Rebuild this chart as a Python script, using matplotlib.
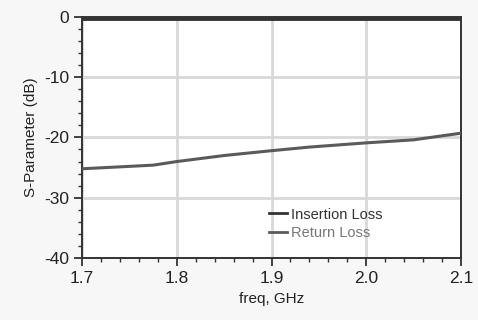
import matplotlib
matplotlib.use('Agg')
import matplotlib.pyplot as plt
from matplotlib.ticker import MultipleLocator

plt.rcParams['font.family'] = ['Liberation Sans', 'DejaVu Sans']
plt.rcParams['axes.unicode_minus'] = False

# data
freq_il = [1.7, 1.8, 1.9, 2.0, 2.1]
insertion_loss = [-0.2, -0.2, -0.2, -0.2, -0.2]

freq_rl = [1.7, 1.775, 1.8, 1.85, 1.9, 1.94, 2.0, 2.05, 2.1]
return_loss = [-25.2, -24.6, -24.0, -23.0, -22.2, -21.6, -20.9, -20.4, -19.3]

fig = plt.figure(figsize=(4.78, 3.2), dpi=100)
fig.patch.set_facecolor('#f7f7f7')
ax = fig.add_axes([0.172, 0.194, 0.792, 0.753])
ax.set_facecolor('white')

ax.plot(freq_il, insertion_loss, color='#333333', lw=3.5, label='Insertion Loss', zorder=3)
ax.plot(freq_rl, return_loss, color='#5a5a5a', lw=2.2, label='Return Loss', zorder=3)

ax.set_xlim(1.7, 2.1)
ax.set_ylim(-40, 0)
ax.set_xticks([1.7, 1.8, 1.9, 2.0, 2.1])
ax.set_xticklabels(['1.7', '1.8', '1.9', '2.0', '2.1'])
ax.set_yticks([0, -10, -20, -30, -40])
ax.xaxis.set_minor_locator(MultipleLocator(0.02))
ax.yaxis.set_minor_locator(MultipleLocator(2))
ax.tick_params(which='major', direction='out', length=6, width=1.2, labelsize=12.5, colors='#222222')
ax.tick_params(which='minor', direction='out', length=3, width=1.0, colors='#333333')
ax.grid(True, which='major', color='#d8d8d8', lw=2)

for s in ax.spines.values():
    s.set_color('#333333')
    s.set_linewidth(1.4)

ax.set_xlabel('freq, GHz', fontsize=11, color='#222222', labelpad=4)
ax.set_ylabel('S-Parameter (dB)', fontsize=11, color='#222222', labelpad=4)

leg = ax.legend(loc='lower left', bbox_to_anchor=(0.46, 0.02), frameon=False,
                fontsize=10.5, handlelength=1.2, handletextpad=0.3, labelspacing=0.3)
for h in leg.legend_handles:
    h.set_linewidth(2)
leg.get_texts()[0].set_color('#333333')
leg.get_texts()[1].set_color('#777777')

plt.savefig('out.png', dpi=100, facecolor=fig.get_facecolor())
